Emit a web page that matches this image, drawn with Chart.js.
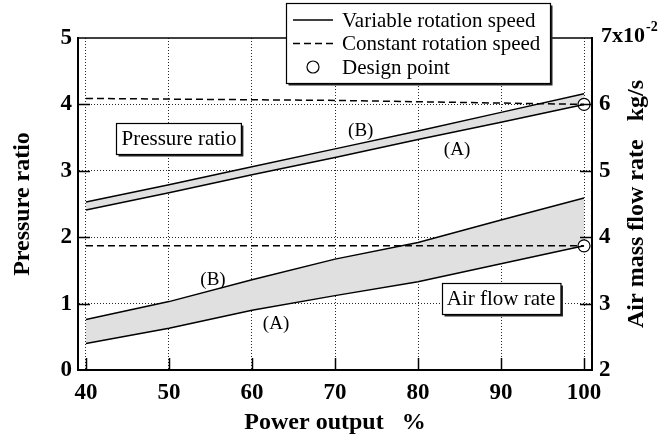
<!DOCTYPE html>
<html><head><meta charset="utf-8">
<script src="https://cdn.jsdelivr.net/npm/chart.js@4/dist/chart.umd.min.js"></script>
<style>html,body{margin:0;padding:0;background:#fff;overflow:hidden;} #c{display:block;}</style>
</head><body><canvas id="c" width="661" height="437" style="width:661px;height:437px"></canvas>
<script>
// ---- data ----
const powerOutput    = [40, 50, 60, 70, 80, 90, 100];
const pressureA      = [2.41, 2.67, 2.94, 3.20, 3.47, 3.73, 4.00];
const pressureB      = [2.53, 2.79, 3.06, 3.33, 3.60, 3.88, 4.16];
const pressureConst  = [4.09, 4.08, 4.07, 4.06, 4.04, 4.02, 4.00];
const airA           = [2.40, 2.63, 2.90, 3.12, 3.33, 3.60, 3.87];   // x10^-2 kg/s
const airB           = [2.76, 3.03, 3.36, 3.67, 3.92, 4.26, 4.59];
const airConst       = [3.87, 3.87, 3.87, 3.87, 3.87, 3.87, 3.87];
const designX        = [100];
const designPressure = [4.00];
const designAir      = [3.87];
const xTicks         = [40, 50, 60, 70, 80, 90, 100];
const leftTicks      = [0, 1, 2, 3, 4, 5];
const rightTicks     = [2, 3, 4, 5, 6, 7];
const legendLabels   = ['Variable rotation speed', 'Constant rotation speed', 'Design point'];
const xTitle = 'Power output   %';
const leftTitle = 'Pressure ratio';
const rightTitle = 'Air mass flow rate   kg/s';
const rightTopLabel = '7x10';
const rightTopExp = '-2';

const SERIF = "'Liberation Serif','Times New Roman',serif";
const pts = (xs, ys) => xs.map((x, i) => ({x, y: ys[i]}));

// annotation anchors (data units)
const annotations = [
  {text: 'Pressure ratio', x: 51.2, y: 3.49, axis: 'y', box: true},
  {text: 'Air flow rate',  x: 90.0, y: 3.08, axis: 'y2', box: true},
  {text: '(B)', x: 73.1, y: 3.60, axis: 'y'},
  {text: '(A)', x: 84.7, y: 3.31, axis: 'y'},
  {text: '(B)', x: 55.3, y: 3.36, axis: 'y2'},
  {text: '(A)', x: 62.9, y: 2.69, axis: 'y2'}
];

const lineDs = (data, axis, extra) => Object.assign({
  type: 'line', data, yAxisID: axis, borderColor: '#000', borderWidth: 1.5,
  pointRadius: 0, fill: false, tension: 0
}, extra || {});

const gridColor = (ctx) => {
  const v = ctx.tick && ctx.tick.value;
  return (ctx.scale.axis === 'y' && (v === 0 || v === 5)) ? 'rgba(0,0,0,0)' : 'rgba(0,0,0,0.85)';
};

const overlay = {
  id: 'overlay',
  afterDraw(chart) {
    const c = chart.ctx, a = chart.chartArea;
    const sx = chart.scales.x, sy = chart.scales.y, sy2 = chart.scales.y2;
    c.save();
    c.strokeStyle = '#000'; c.fillStyle = '#000';
    c.lineWidth = 1.5;
    c.beginPath(); c.moveTo(a.left, a.top); c.lineTo(a.right, a.top); c.stroke();
    const TL = 12;
    xTicks.forEach(v => { const p = Math.round(sx.getPixelForValue(v)) + 0.5;
      c.beginPath(); c.moveTo(p, a.bottom); c.lineTo(p, a.bottom - TL); c.stroke(); });
    leftTicks.slice(1, -1).forEach(v => { const p = Math.round(sy.getPixelForValue(v)) + 0.5;
      c.beginPath(); c.moveTo(a.left, p); c.lineTo(a.left + TL, p); c.stroke(); });
    rightTicks.slice(1, -1).forEach(v => { const p = Math.round(sy2.getPixelForValue(v)) + 0.5;
      c.beginPath(); c.moveTo(a.right, p); c.lineTo(a.right - TL, p); c.stroke(); });

    c.textBaseline = 'middle'; c.textAlign = 'center';
    annotations.forEach(an => {
      const px = sx.getPixelForValue(an.x);
      const py = chart.scales[an.axis].getPixelForValue(an.y);
      if (an.box) {
        c.font = '21px ' + SERIF;
        const w = c.measureText(an.text).width + 10, h = 31;
        const bx = Math.round(px - w / 2) + 0.5, by = Math.round(py - h / 2) + 0.5;
        c.fillStyle = '#222'; c.fillRect(bx + 2, by + 2, w, h);
        c.fillStyle = '#fff'; c.fillRect(bx, by, w, h);
        c.lineWidth = 1.2; c.strokeStyle = '#000'; c.strokeRect(bx, by, w, h);
        c.fillStyle = '#000'; c.fillText(an.text, px, py + 1);
      } else {
        c.font = '19px ' + SERIF;
        c.fillStyle = '#000'; c.fillText(an.text, px, py);
      }
    });

    c.save();
    c.translate(637, (a.top + a.bottom) / 2);
    c.rotate(-Math.PI / 2);
    c.font = 'bold 24px ' + SERIF; c.textAlign = 'center'; c.textBaseline = 'middle';
    c.fillText(rightTitle, 0, 0);
    c.restore();

    c.font = 'bold 22px ' + SERIF; c.textAlign = 'left'; c.textBaseline = 'middle';
    const ty = sy2.getPixelForValue(7) - 2;
    c.fillText(rightTopLabel, 601, ty);
    const tw = c.measureText(rightTopLabel).width;
    c.font = 'bold 14px ' + SERIF;
    c.fillText(rightTopExp, 601 + tw + 1, ty - 9);

    const L = {x: 286.5, y: 3.5, w: 264, h: 80};
    c.fillStyle = '#222'; c.fillRect(L.x + 2, L.y + 2, L.w, L.h);
    c.fillStyle = '#fff'; c.fillRect(L.x, L.y, L.w, L.h);
    c.lineWidth = 1.2; c.strokeStyle = '#000'; c.strokeRect(L.x, L.y, L.w, L.h);
    const rows = [20, 43.5, 67];
    c.lineWidth = 1.5;
    c.beginPath(); c.moveTo(293, rows[0]); c.lineTo(333, rows[0]); c.stroke();
    c.setLineDash([7, 4]);
    c.beginPath(); c.moveTo(293, rows[1]); c.lineTo(333, rows[1]); c.stroke();
    c.setLineDash([]);
    c.lineWidth = 1.2; c.fillStyle = '#fff';
    c.beginPath(); c.arc(313, rows[2], 6, 0, Math.PI * 2); c.fill(); c.stroke();
    c.fillStyle = '#000'; c.font = '21px ' + SERIF; c.textAlign = 'left'; c.textBaseline = 'middle';
    legendLabels.forEach((t, i) => c.fillText(t, 342, rows[i] + 1));
    c.restore();
  }
};

const tickFont = {family: SERIF, size: 23, weight: 'bold'};
const titleFont = {family: SERIF, size: 24, weight: 'bold'};

new Chart(document.getElementById('c'), {
  data: {
    datasets: [
      lineDs(pts(powerOutput, pressureB), 'y'),
      lineDs(pts(powerOutput, pressureA), 'y', {fill: '-1', backgroundColor: '#e0e0e0'}),
      lineDs(pts(powerOutput, pressureConst), 'y', {borderDash: [7, 4]}),
      lineDs(pts(powerOutput, airB), 'y2'),
      lineDs(pts(powerOutput, airA), 'y2', {fill: '-1', backgroundColor: '#e0e0e0'}),
      lineDs(pts(powerOutput, airConst), 'y2', {borderDash: [7, 4]}),
      {type: 'scatter', data: pts(designX, designPressure), yAxisID: 'y', pointRadius: 6,
       pointBackgroundColor: '#fff', pointBorderColor: '#000', pointBorderWidth: 1.2},
      {type: 'scatter', data: pts(designX, designAir), yAxisID: 'y2', pointRadius: 6,
       pointBackgroundColor: '#fff', pointBorderColor: '#000', pointBorderWidth: 1.2}
    ]
  },
  options: {
    responsive: false, animation: false, devicePixelRatio: 1,
    layout: {padding: {top: 38, left: 0, right: 0, bottom: 0}},
    plugins: {legend: {display: false}, tooltip: {enabled: false}, filler: {drawTime: 'beforeDatasetsDraw'}},
    scales: {
      x: {
        type: 'linear', position: 'bottom', min: 39.04, max: 100.96,
        afterBuildTicks: s => { s.ticks = xTicks.map(v => ({value: v})); },
        afterFit: s => { s.height = 67; },
        ticks: {font: tickFont, color: '#000', padding: 9, autoSkip: false, maxRotation: 0},
        grid: {color: gridColor, lineWidth: 1, drawTicks: false},
        border: {display: true, color: '#000', width: 2, dash: [1, 2]},
        title: {display: true, text: xTitle, color: '#000', font: titleFont, padding: {top: 0, bottom: 0}}
      },
      y: {
        type: 'linear', position: 'left', min: 0, max: 5,
        afterBuildTicks: s => { s.ticks = leftTicks.map(v => ({value: v})); },
        afterFit: s => { s.width = 78; },
        ticks: {font: tickFont, color: '#000', padding: 6},
        grid: {color: gridColor, lineWidth: 1, drawTicks: false},
        border: {display: true, color: '#000', width: 2, dash: [1, 2]},
        title: {display: true, text: leftTitle, color: '#000', font: titleFont, padding: {top: 8, bottom: 0}}
      },
      y2: {
        type: 'linear', position: 'right', min: 2, max: 7,
        afterBuildTicks: s => { s.ticks = rightTicks.map(v => ({value: v})); },
        afterFit: s => { s.width = 69; },
        ticks: {font: tickFont, color: '#000', padding: 7, callback: v => (v === 7 ? '' : String(v))},
        grid: {drawOnChartArea: false, drawTicks: false},
        border: {display: true, color: '#000', width: 2}
      }
    }
  },
  plugins: [overlay]
});
</script></body></html>
